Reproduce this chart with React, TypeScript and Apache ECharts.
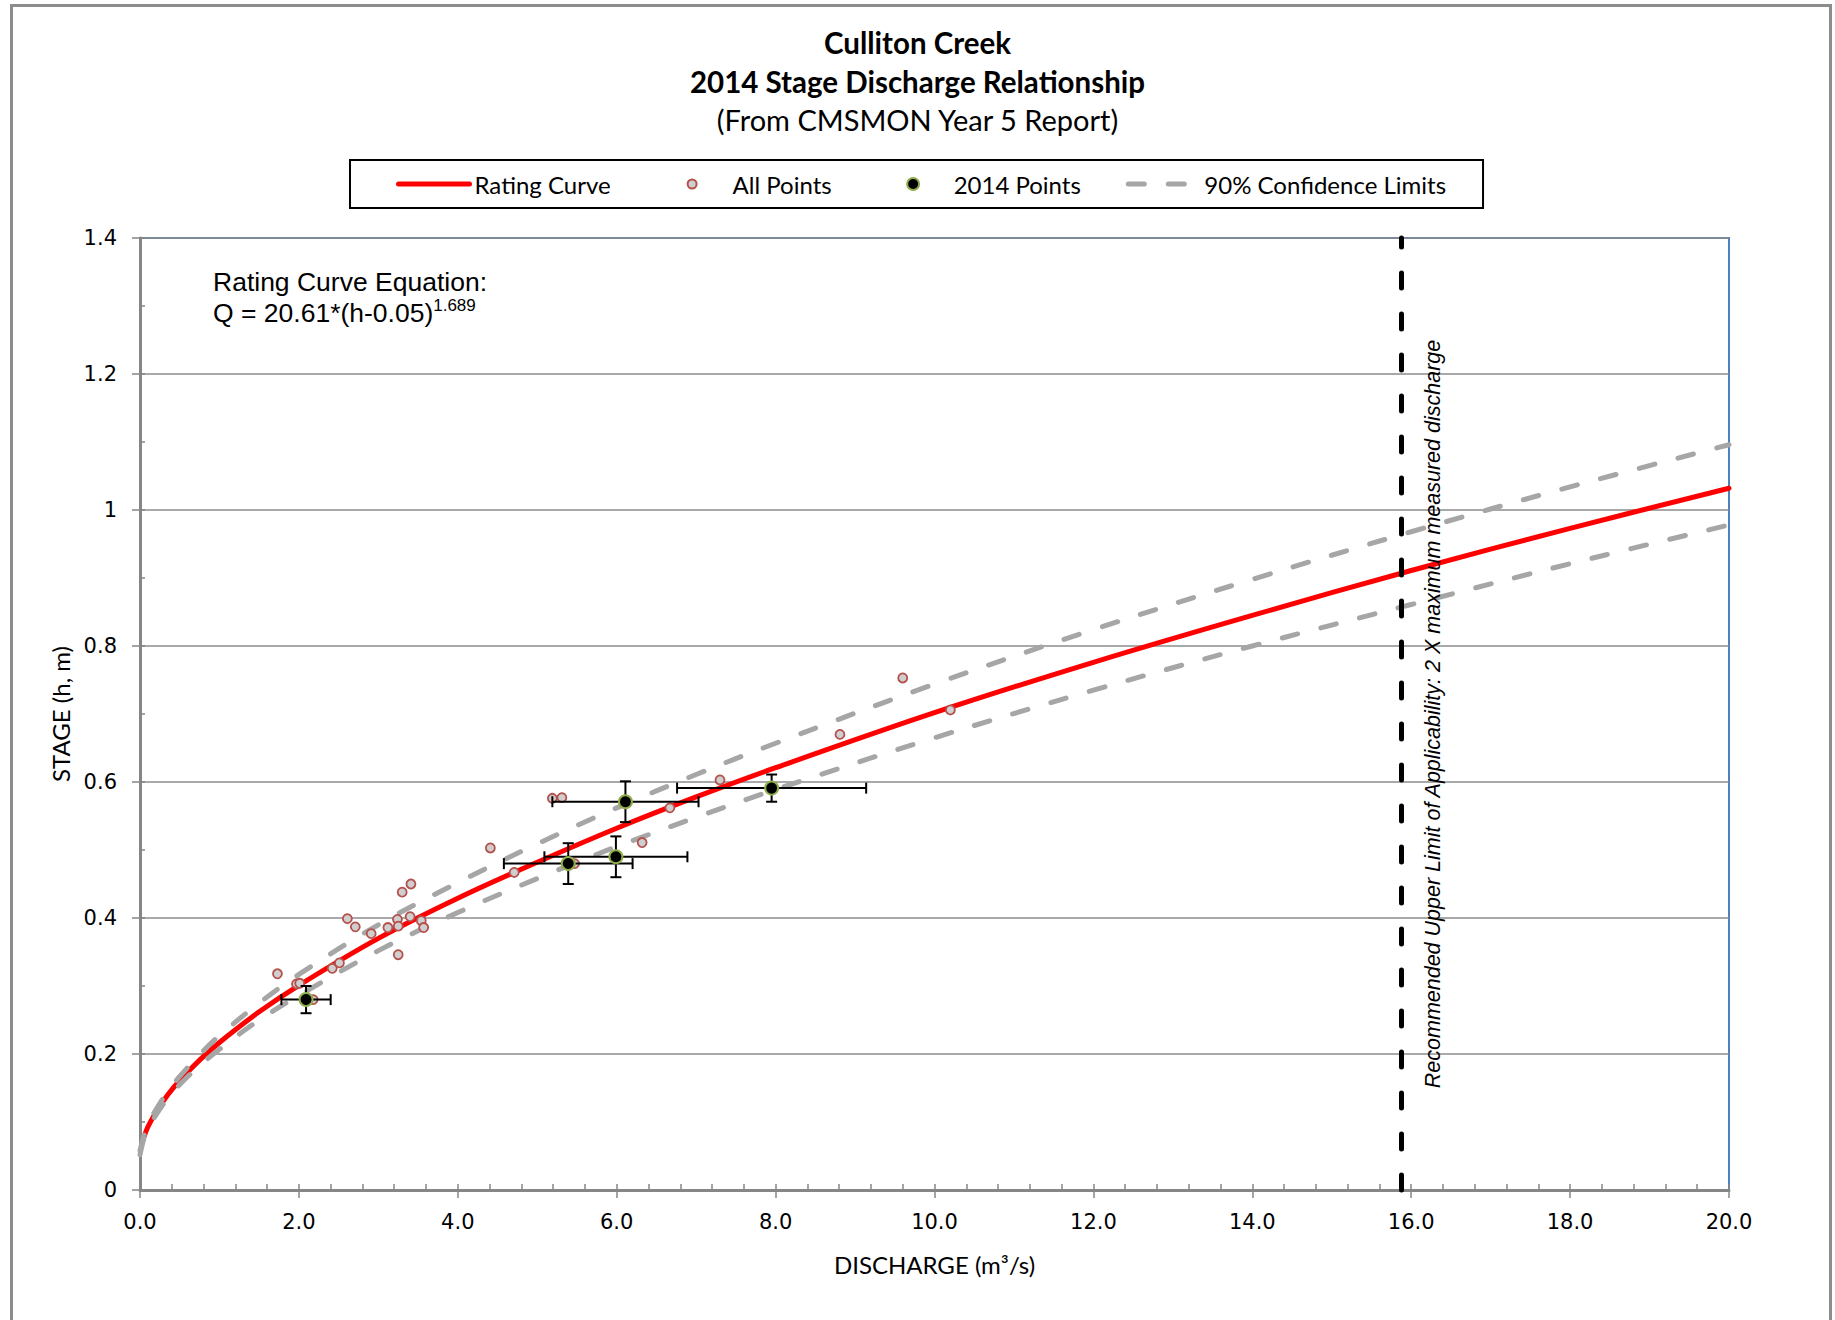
import React, { useEffect, useRef } from "react";
import * as echarts from "echarts";

// ---------- texts ----------
const titleLines = ["Culliton Creek", "2014 Stage Discharge Relationship"];
const subtitle = "(From CMSMON Year 5 Report)";
const xAxisName = "DISCHARGE (m³/s)";
const yAxisName = "STAGE (h, m)";
const equationLine1 = "Rating Curve Equation:";
const equationMain = "Q = 20.61*(h-0.05)";
const equationExp = "1.689";
const limitLabel =
  "Recommended Upper Limit of Applicability: 2 X maximum measured discharge";
const legendNames = ["Rating Curve", "All Points", "2014 Points", "90% Confidence Limits"];

// ---------- axes ----------
const xMin = 0;
const xMax = 20;
const xStep = 2;
const xMinorStep = 0.4;
const yMin = 0;
const yMax = 1.4;
const yStep = 0.2;
const yMinorStep = 0.1;

// ---------- vertical limit ----------
const limitDischarge = 15.88;

// ---------- rating curve ----------
const ratingQ = [0.05, 0.1, 0.2, 0.35, 0.5, 0.75, 1, 1.5, 2, 3, 4, 5, 6, 7, 8, 10, 12, 14, 16, 18, 20];
const ratingH = [0.078, 0.093, 0.114, 0.14, 0.161, 0.191, 0.217, 0.262, 0.301, 0.37, 0.429, 0.482, 0.532, 0.578, 0.621, 0.702, 0.776, 0.845, 0.911, 0.973, 1.032];

// ---------- 90% confidence limits ----------
const clQ = [0, 0.05, 0.1, 0.2, 0.35, 0.5, 0.75, 1, 1.5, 2, 3, 4, 5, 6, 7, 8, 10, 12, 14, 16, 18, 20];
const upperH = [0.058, 0.08, 0.096, 0.118, 0.145, 0.167, 0.199, 0.227, 0.275, 0.317, 0.39, 0.452, 0.509, 0.562, 0.611, 0.657, 0.744, 0.824, 0.898, 0.968, 1.034, 1.096];
const lowerH = [0.052, 0.076, 0.09, 0.11, 0.135, 0.155, 0.183, 0.207, 0.25, 0.286, 0.352, 0.408, 0.458, 0.505, 0.548, 0.589, 0.665, 0.735, 0.8, 0.861, 0.921, 0.978];

// ---------- all measured points ----------
const allQ = [1.73, 1.97, 2.01, 2.18, 2.42, 2.51, 2.61, 2.71, 2.91, 3.12, 3.24, 3.25, 3.25, 3.3, 3.41, 3.4, 3.54, 3.57, 4.41, 4.71, 5.47, 5.19, 5.31, 6.32, 6.67, 7.3, 8.81, 9.6, 10.2];
const allH = [0.318, 0.303, 0.304, 0.28, 0.326, 0.334, 0.399, 0.387, 0.377, 0.386, 0.398, 0.388, 0.346, 0.438, 0.45, 0.402, 0.396, 0.386, 0.503, 0.467, 0.48, 0.576, 0.577, 0.511, 0.562, 0.603, 0.67, 0.753, 0.706];

// ---------- 2014 points with error bars ----------
const q2014 = [2.09, 5.39, 5.99, 6.11, 7.95];
const h2014 = [0.28, 0.48, 0.49, 0.571, 0.591];
const qErr2014 = [0.31, 0.81, 0.9, 0.92, 1.19];
const hErr2014 = [0.02, 0.03, 0.03, 0.03, 0.02];

const CALIBRI_LIKE = "Lato";
const ARIAL_LIKE = "Liberation Sans";
const TICK_FONT = "DejaVu Sans";

// legend icons spanning the full icon box (invisible corner points keep the box)
const smallDotIcon =
  "path://M0,0L0.01,0M71,13L70.99,13M31,6.5A4.5,4.5,0,1,1,40,6.5A4.5,4.5,0,1,1,31,6.5Z";
const bigDotIcon =
  "path://M0,0L0.01,0M71,13L70.99,13M29.5,6.5A6,6,0,1,1,41.5,6.5A6,6,0,1,1,29.5,6.5Z";

export default function App() {
  const ref = useRef<HTMLDivElement | null>(null);

  useEffect(() => {
    if (!ref.current) return;
    const chart = echarts.init(ref.current, undefined, { renderer: "svg" });

    const ratingData = ratingQ.map((q, i) => [q, ratingH[i]]);
    const upperData = clQ.map((q, i) => [q, upperH[i]]);
    const lowerData = clQ.map((q, i) => [q, lowerH[i]]);
    const allData = allQ.map((q, i) => [q, allH[i]]);
    const pts2014 = q2014.map((q, i) => [q, h2014[i]]);
    const err2014 = q2014.map((q, i) => [q, h2014[i], qErr2014[i], hErr2014[i]]);

    const gray = "#A6A6A6";
    const axisGray = "#868686";

    const option: any = {
      animation: false,
      backgroundColor: "#ffffff",
      title: {
        text: titleLines.join("\n"),
        subtext: subtitle,
        left: "center",
        top: 18,
        itemGap: -1,
        textStyle: {
          fontFamily: CALIBRI_LIKE,
          fontWeight: "bold",
          fontSize: 29.5,
          lineHeight: 39,
          color: "#000",
        },
        subtextStyle: {
          fontFamily: CALIBRI_LIKE,
          fontSize: 29,
          lineHeight: 39,
          color: "#000",
        },
      },
      legend: {
        data: [
          { name: legendNames[0], itemStyle: { opacity: 0 } },
          { name: legendNames[1], icon: smallDotIcon },
          { name: legendNames[2], icon: bigDotIcon },
          { name: legendNames[3], itemStyle: { opacity: 0 } },
        ],
        left: 350,
        top: 160,
        orient: "horizontal",
        itemWidth: 71,
        itemHeight: 13,
        itemGap: 45,
        padding: [12, 37, 12, 46],
        borderColor: "#000",
        borderWidth: 2,
        symbolKeepAspect: true,
        lineStyle: { width: "inherit" },
        textStyle: { fontFamily: CALIBRI_LIKE, fontSize: 24, color: "#000" },
      },
      grid: {
        left: 140,
        top: 238,
        width: 1589,
        height: 952,
        show: true,
        borderColor: "#4F81BD",
        borderWidth: 2,
        backgroundColor: "transparent",
      },
      xAxis: [
        {
          type: "value",
          min: xMin,
          max: xMax,
          interval: xStep,
          position: "bottom",
          name: xAxisName,
          nameLocation: "middle",
          nameGap: 62,
          nameTextStyle: { fontFamily: CALIBRI_LIKE, fontSize: 24, color: "#000" },
          axisLine: { show: true, onZero: false, lineStyle: { color: axisGray, width: 3 } },
          axisTick: { show: true, inside: false, length: 8, lineStyle: { color: axisGray, width: 1.5 } },
          axisLabel: {
            fontFamily: TICK_FONT,
            fontSize: 21,
            color: "#000",
            margin: 21,
            formatter: (v: number) => v.toFixed(1),
          },
          splitLine: { show: false },
        },
        {
          type: "value",
          min: xMin,
          max: xMax,
          interval: xMinorStep,
          position: "bottom",
          axisLine: { show: false, onZero: false },
          axisTick: { show: true, inside: true, length: 6, lineStyle: { color: axisGray, width: 1.5 } },
          axisLabel: { show: false },
          splitLine: { show: false },
        },
      ],
      yAxis: [
        {
          type: "value",
          min: yMin,
          max: yMax,
          interval: yStep,
          position: "left",
          name: yAxisName,
          nameLocation: "middle",
          nameGap: 68,
          nameRotate: 90,
          nameTextStyle: { fontFamily: CALIBRI_LIKE, fontSize: 24, color: "#000" },
          axisLine: { show: true, onZero: false, lineStyle: { color: axisGray, width: 3 } },
          axisTick: { show: true, inside: false, length: 8, lineStyle: { color: axisGray, width: 1.5 } },
          axisLabel: { fontFamily: TICK_FONT, fontSize: 21, color: "#000", margin: 23 },
          splitLine: { show: true, lineStyle: { color: "#8C8C8C", width: 1.5 } },
        },
        {
          type: "value",
          min: yMin,
          max: yMax,
          interval: yMinorStep,
          position: "left",
          axisLine: { show: false, onZero: false },
          axisTick: { show: true, inside: true, length: 5, lineStyle: { color: axisGray, width: 1.5 } },
          axisLabel: { show: false },
          splitLine: { show: false },
        },
      ],
      graphic: [
        {
          type: "rect",
          left: 9,
          top: 3,
          silent: true,
          shape: { width: 1819, height: 1340 },
          style: { fill: "none", stroke: "#8C8C8C", lineWidth: 3 },
          z: -10,
        },
        {
          type: "text",
          left: 213,
          top: 268,
          silent: true,
          style: {
            text: `{m|${equationLine1}}\n{m|${equationMain}}{s|${equationExp}}`,
            rich: {
              m: { fontFamily: ARIAL_LIKE, fontSize: 26.5, lineHeight: 31, fill: "#000" },
              s: { fontFamily: ARIAL_LIKE, fontSize: 17, lineHeight: 26, verticalAlign: "top", fill: "#000" },
            },
          },
          z: 20,
        },
      ],
      series: [
        {
          name: "Rating Curve",
          type: "line",
          data: ratingData,
          smooth: 0.35,
          symbol: "none",
          lineStyle: { color: "#FF0000", width: 5, cap: "round" },
          itemStyle: { color: "#FF0000" },
          z: 2,
        },
        {
          name: "90% Confidence Limits",
          type: "line",
          data: upperData,
          smooth: 0.35,
          symbol: "none",
          lineStyle: { color: gray, width: 5, type: [16, 24], cap: "round" },
          itemStyle: { color: gray },
          z: 3,
        },
        {
          name: "90% Confidence Limits",
          type: "line",
          data: lowerData,
          smooth: 0.35,
          symbol: "none",
          lineStyle: { color: gray, width: 5, type: [16, 24], cap: "round" },
          itemStyle: { color: gray },
          z: 3,
        },
        {
          name: "All Points",
          type: "scatter",
          data: allData,
          symbol: "circle",
          symbolSize: 9,
          itemStyle: { color: "#CFCFCF", borderColor: "#B5504C", borderWidth: 1.8, opacity: 1 },
          z: 4,
        },
        {
          name: "2014 Error Bars",
          type: "custom",
          data: err2014,
          encode: { x: 0, y: 1 },
          z: 5,
          renderItem: (params: any, api: any) => {
            const q = api.value(0);
            const h = api.value(1);
            const dq = api.value(2);
            const dh = api.value(3);
            const l = api.coord([q - dq, h]);
            const r = api.coord([q + dq, h]);
            const t = api.coord([q, h + dh]);
            const b = api.coord([q, h - dh]);
            const cap = 5.5;
            const style = { stroke: "#000", lineWidth: 2 };
            const seg = (x1: number, y1: number, x2: number, y2: number) => ({
              type: "line",
              shape: { x1, y1, x2, y2 },
              style,
            });
            return {
              type: "group",
              children: [
                seg(l[0], l[1], r[0], r[1]),
                seg(l[0], l[1] - cap, l[0], l[1] + cap),
                seg(r[0], r[1] - cap, r[0], r[1] + cap),
                seg(t[0], t[1], b[0], b[1]),
                seg(t[0] - cap, t[1], t[0] + cap, t[1]),
                seg(b[0] - cap, b[1], b[0] + cap, b[1]),
              ],
            };
          },
        },
        {
          name: "2014 Points",
          type: "scatter",
          data: pts2014,
          symbol: "circle",
          symbolSize: 13,
          itemStyle: { color: "#000000", borderColor: "#8FAE4A", borderWidth: 2, opacity: 1 },
          z: 6,
          markLine: {
            silent: true,
            symbol: ["none", "none"],
            lineStyle: { color: "#000", width: 5, type: [15, 26], cap: "round" },
            label: {
              show: true,
              position: "insideMiddleBottom",
              distance: 20,
              formatter: limitLabel,
              fontFamily: ARIAL_LIKE,
              fontStyle: "italic",
              fontSize: 21.5,
              color: "#000",
            },
            data: [
              [
                { coord: [limitDischarge, yMin] },
                { coord: [limitDischarge, yMax] },
              ],
            ],
          },
        },
      ],
    };

    chart.setOption(option);
    return () => {
      chart.dispose();
    };
  }, []);

  return (
    <div
      ref={ref}
      style={{ position: "absolute", left: 0, top: 0, width: 1835, height: 1320 }}
    />
  );
}
